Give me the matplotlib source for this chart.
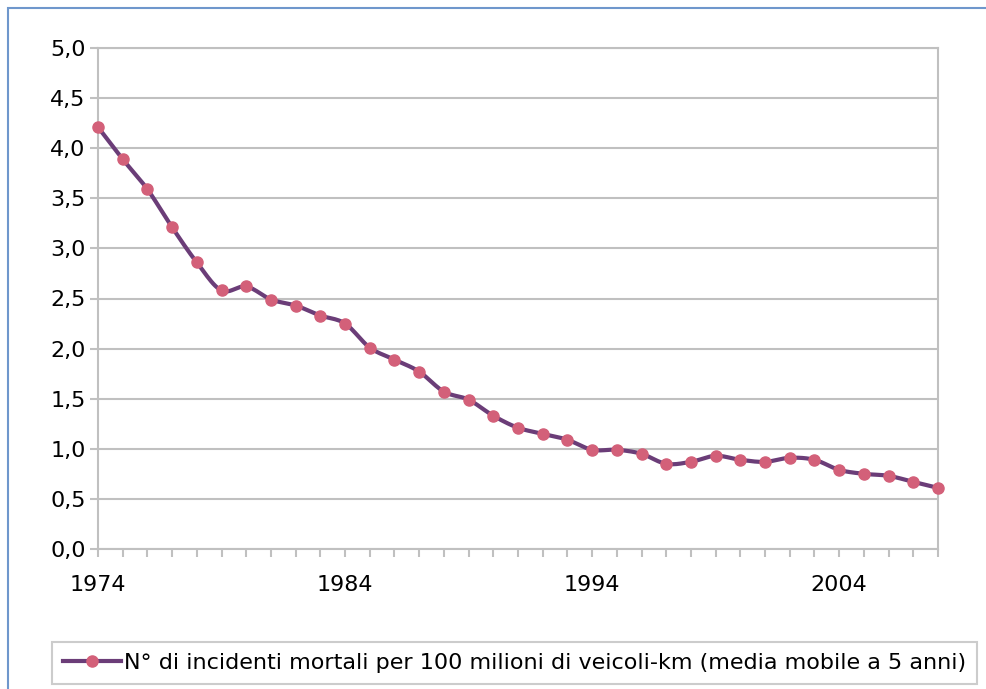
import numpy as np
import matplotlib.pyplot as plt
from matplotlib.lines import Line2D
from matplotlib.patches import Rectangle

# Dati: incidenti mortali per 100 milioni di veicoli-km (media mobile 5 anni)
years = list(range(1974, 2009))
values = [4.21, 3.89, 3.59, 3.21, 2.86, 2.58, 2.62, 2.49, 2.43, 2.33,
          2.25, 2.01, 1.89, 1.77, 1.57, 1.49, 1.33, 1.21, 1.15, 1.09,
          0.99, 0.99, 0.95, 0.85, 0.87, 0.93, 0.89, 0.87, 0.91, 0.89,
          0.79, 0.75, 0.73, 0.67, 0.61]
label_years = [1974, 1984, 1994, 2004]
y_ticks = [0.0, 0.5, 1.0, 1.5, 2.0, 2.5, 3.0, 3.5, 4.0, 4.5, 5.0]
legend_text = "N° di incidenti mortali per 100 milioni di veicoli-km (media mobile a 5 anni)"

line_col = '#6b3d78'
mark_col = '#d36079'
grid_col = '#c0c0c0'


def smooth(x, y, n=12):
    """curva tipo 'linea smussata' di Excel (Catmull-Rom)"""
    x = np.asarray(x, float)
    y = np.asarray(y, float)
    px = np.concatenate([[2 * x[0] - x[1]], x, [2 * x[-1] - x[-2]]])
    py = np.concatenate([[2 * y[0] - y[1]], y, [2 * y[-1] - y[-2]]])
    t = np.linspace(0, 1, n, endpoint=False)
    xs, ys = [], []
    for i in range(1, len(px) - 2):
        for p, out in ((px, xs), (py, ys)):
            p0, p1, p2, p3 = p[i - 1], p[i], p[i + 1], p[i + 2]
            out.extend(0.5 * (2 * p1 + (-p0 + p2) * t
                              + (2 * p0 - 5 * p1 + 4 * p2 - p3) * t ** 2
                              + (-p0 + 3 * p1 - 3 * p2 + p3) * t ** 3))
    xs.append(x[-1])
    ys.append(y[-1])
    return np.array(xs), np.array(ys)


fig = plt.figure(figsize=(9.86, 6.89), dpi=100)
ax = fig.add_axes([98 / 986, 1 - 549 / 689, 840 / 986, 501 / 689])

sx, sy = smooth(years, values)
ax.plot(sx, sy, color=line_col, linewidth=3, solid_capstyle='round', zorder=3)
ax.plot(years, values, linestyle='none', marker='o', markersize=8,
        color=mark_col, zorder=4, clip_on=False)

ax.set_xlim(years[0], years[-1])
ax.set_ylim(0, 5)
ax.set_yticks(y_ticks)
ax.set_yticklabels([f"{v:.1f}".replace('.', ',') for v in y_ticks])
ax.set_xticks(years, minor=True)
ax.set_xticks(label_years)
ax.set_xticklabels([str(y) for y in label_years])

ax.grid(axis='y', color=grid_col, linewidth=1.5)
ax.set_axisbelow(True)
for s in ax.spines.values():
    s.set_color(grid_col)
    s.set_linewidth(1.5)
ax.tick_params(axis='y', length=6, width=1.5, color=grid_col, labelsize=16, pad=3)
ax.tick_params(axis='x', which='both', length=6, width=1.5, color=grid_col,
               labelsize=16, pad=13)

# legenda
handle = Line2D([0], [0], color=line_col, linewidth=3, marker='o',
                markersize=8, markerfacecolor=mark_col, markeredgecolor=mark_col)
leg = fig.legend([handle], [legend_text], loc='upper left',
                 bbox_to_anchor=(52 / 986, 1 - 642 / 689), fontsize=16,
                 frameon=True, fancybox=False, edgecolor=grid_col,
                 handlelength=2.6, handletextpad=0.15, borderpad=0.5,
                 borderaxespad=0)
leg.get_frame().set_linewidth(1.5)

# bordo esterno del grafico
fig.patches.append(Rectangle((8 / 986, -0.1), 1.2, 1 - 8 / 689 + 0.1,
                             transform=fig.transFigure, fill=False,
                             edgecolor='#6f97cc', linewidth=1.5))

fig.savefig('out.png', dpi=100)
